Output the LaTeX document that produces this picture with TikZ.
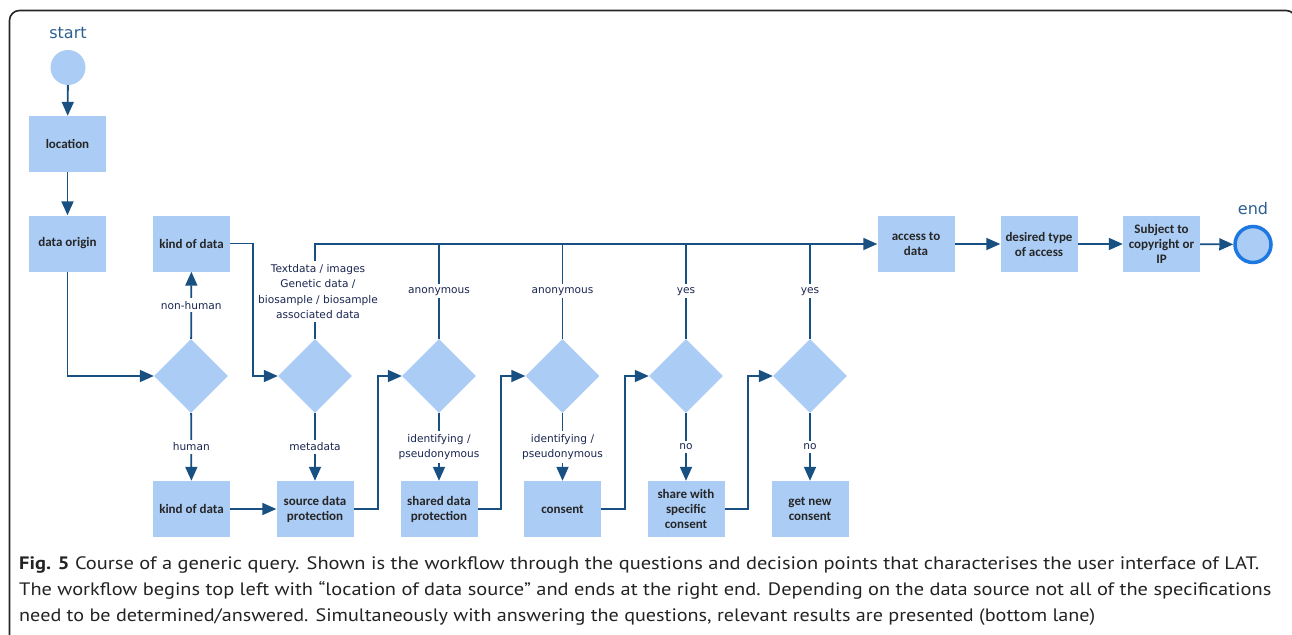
\documentclass[tikz,border=0pt]{standalone}
\usepackage{fontspec}
\usepackage{graphicx}
\setmainfont{Carlito}
\newfontfamily\lblfont{DejaVu Sans}
\newfontfamily\capfont{PT Sans}
\usetikzlibrary{arrows.meta,shapes.geometric,calc}
\definecolor{boxfill}{RGB}{171,204,245}
\definecolor{flow}{RGB}{25,80,130}
\definecolor{lbltext}{RGB}{25,38,80}
\definecolor{termtext}{RGB}{45,95,145}
\definecolor{endring}{RGB}{30,120,225}
\definecolor{captext}{RGB}{35,35,35}
\begin{document}
\begin{tikzpicture}[x=1pt,y=-1pt,
  stepbox/.style={rectangle, fill=boxfill, minimum width=77pt, minimum height=56pt,
    inner sep=0pt, align=center, text=black!85,
    font=\bfseries\fontsize{13}{15}\selectfont},
  decision/.style={diamond, fill=boxfill, minimum width=74pt, minimum height=74pt,
    inner sep=0pt, aspect=1},
  flowline/.style={draw=flow, line width=1.8pt},
  arr/.style={flowline, -{Triangle[length=14pt,width=12pt]}},
  lbl/.style={fill=white, inner sep=3pt, align=center, text=lbltext,
    font=\lblfont\fontsize{10.6}{15.5}\selectfont},
  term/.style={text=termtext, font=\lblfont\fontsize{16}{18}\selectfont},
  capline/.style={anchor=base west, inner sep=0pt, text=captext,
    font=\capfont\fontsize{18}{20}\selectfont}
]
\clip (0,0) rectangle (1292,634);
\fill[white] (0,0) rectangle (1292,634);

% outer frame
\draw[line width=1.6pt, black!85, rounded corners=10pt]
  (9.5,640) -- (9.5,10.5) -- (1296,10.5) -- (1296,640);

% terminals
\node[term] (startlbl) at (68,33) {start};
\node[circle, fill=boxfill, minimum size=35pt, inner sep=0pt] (start) at (68,67.5) {};
\node[term] (endlbl) at (1253,209) {end};
\node[circle, draw=endring, line width=3.5pt, fill=boxfill, minimum size=36pt,
  inner sep=0pt] (end) at (1253,244.5) {};

% process steps
\node[stepbox] (loc) at (67.5,144) {location};
\node[stepbox] (orig) at (67.5,243.5) {data origin};
\node[stepbox] (kdtop) at (191.5,243.5) {kind of data};
\node[stepbox] (kdbot) at (191.5,509) {kind of data};
\node[stepbox] (sdp) at (315,509) {source data\\protection};
\node[stepbox] (shdp) at (439,509) {shared data\\protection};
\node[stepbox] (cons) at (562.5,509) {consent};
\node[stepbox] (spec) at (686,509) {share with\\specific\\consent};
\node[stepbox] (newc) at (810,509) {get new\\consent};
\node[stepbox] (acc) at (916,244) {access to\\data};
\node[stepbox] (type) at (1039,244) {desired type\\of access};
\node[stepbox] (copy) at (1161.5,244) {Subject to\\copyright or\\IP};

% decision points
\node[decision] (d1) at (191,376) {};
\node[decision] (d2) at (315,376) {};
\node[decision] (d3) at (439,376) {};
\node[decision] (d4) at (562.5,376) {};
\node[decision] (d5) at (686,376) {};
\node[decision] (d6) at (810,376) {};

% upper lane towards data access
\draw[arr] (d2.north) -- node[lbl, xshift=3pt]{Textdata / images\\Genetic data /\\biosample / biosample\\associated data}
  (d2.north |- acc.west) -- (acc.west);
\draw[flowline] (d3.north) -- node[lbl]{anonymous} (d3.north |- acc.west);
\draw[flowline] (d4.north) -- node[lbl]{anonymous} (d4.north |- acc.west);
\draw[flowline] (d5.north) -- node[lbl]{yes} (d5.north |- acc.west);
\draw[flowline] (d6.north) -- node[lbl]{yes} (d6.north |- acc.west);
\draw[arr] (acc) -- (type);
\draw[arr] (type) -- (copy);
\draw[arr] (copy) -- (end);

% main line
\draw[arr] (start) -- (loc);
\draw[arr] (loc) -- (orig);
\draw[arr] (orig.south) |- (d1.west);
\draw[arr] (d1) -- node[lbl]{non-human} (kdtop);
\draw[arr] (d1) -- node[lbl]{human} (kdbot);
\draw[arr] (kdtop.east) -- ++(23,0) |- (d2.west);
\draw[arr] (kdbot) -- (sdp);
\draw[arr] (d2) -- node[lbl]{metadata} (sdp);
\draw[arr] (sdp.east) -- ++(24,0) |- (d3.west);
\draw[arr] (d3) -- node[lbl]{identifying /\\pseudonymous} (shdp);
\draw[arr] (shdp.east) -- ++(23,0) |- (d4.west);
\draw[arr] (d4) -- node[lbl]{identifying /\\pseudonymous} (cons);
\draw[arr] (cons.east) -- ++(24,0) |- (d5.west);
\draw[arr] (d5) -- node[lbl]{no} (spec);
\draw[arr] (spec.east) -- ++(23,0) |- (d6.west);
\draw[arr] (d6) -- node[lbl]{no} (newc);

% caption
\node[capline] (cap1) at (19,569) {\resizebox{1240pt}{\height}{\textbf{Fig. 5} Course of a generic query. Shown is the workflow through the questions and decision points that characterises the user interface of LAT.}};
\node[capline] (cap2) at (19,595) {\resizebox{1252pt}{\height}{The workflow begins top left with “location of data source” and ends at the right end. Depending on the data source not all of the specifications}};
\node[capline] (cap3) at (19,621) {\resizebox{1076pt}{\height}{need to be determined/answered. Simultaneously with answering the questions, relevant results are presented (bottom lane)}};
\end{tikzpicture}
\end{document}
